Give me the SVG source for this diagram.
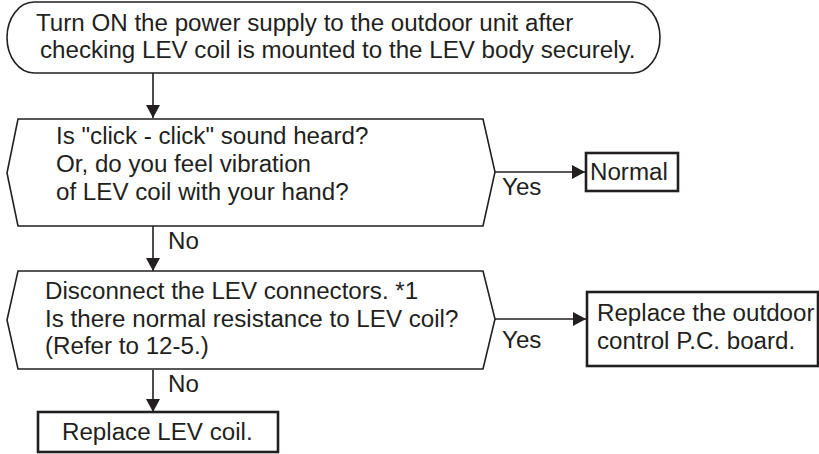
<svg xmlns="http://www.w3.org/2000/svg" width="819" height="454" viewBox="0 0 819 454">
<style>
.s{fill:#fff;stroke:#231f20;stroke-width:1.6}
.b{fill:#fff;stroke:#231f20;stroke-width:2.6}
.c{fill:none;stroke:#231f20;stroke-width:1.6}
text{font-family:"Liberation Sans",Arial,sans-serif;font-size:23px;fill:#231f20}
</style>
<defs>
<marker id="ah" viewBox="0 0 13 14" refX="13" refY="7" markerWidth="13" markerHeight="14" markerUnits="userSpaceOnUse" orient="auto">
<path d="M0,0 L13,7 L0,14 Z" fill="#231f20"/>
</marker>
</defs>
<g id="connectors">
<line class="c" x1="153" y1="73" x2="153" y2="118" marker-end="url(#ah)"/>
<line class="c" x1="153" y1="226" x2="153" y2="271" marker-end="url(#ah)"/>
<line class="c" x1="153" y1="370" x2="153" y2="412" marker-end="url(#ah)"/>
<line class="c" x1="495" y1="172" x2="585" y2="172" marker-end="url(#ah)"/>
<line class="c" x1="495" y1="319" x2="586" y2="319" marker-end="url(#ah)"/>
<text transform="translate(168 249) scale(1.05 1)">No</text>
<text transform="translate(168 392) scale(1.05 1)">No</text>
<text transform="translate(502 195) scale(1.05 1)">Yes</text>
<text transform="translate(502 348) scale(1.05 1)">Yes</text>
</g>
<g id="start">
<rect class="s" x="7" y="2" width="653" height="71" rx="27" ry="35.5"/>
<text transform="translate(36 31) scale(1.05 1)">Turn ON the power supply to the outdoor unit after</text>
<text transform="translate(40 58) scale(1.05 1)">checking LEV coil is mounted to the LEV body securely.</text>
</g>
<g id="decision1">
<polygon class="s" points="18,119 483,119 495,172 483,226 18,226 7,173"/>
<text transform="translate(56 144) scale(1.05 1)">Is "click - click" sound heard?</text>
<text transform="translate(56 172) scale(1.05 1)">Or, do you feel vibration</text>
<text transform="translate(56 200) scale(1.05 1)">of LEV coil with your hand?</text>
</g>
<g id="normal">
<rect class="b" x="586" y="153" width="92" height="38"/>
<text transform="translate(590 180) scale(1.05 1)">Normal</text>
</g>
<g id="decision2">
<polygon class="s" points="18,271 483,271 495,319 483,369 18,369 7,320"/>
<text transform="translate(45 299) scale(1.05 1)">Disconnect the LEV connectors. *1</text>
<text transform="translate(45 327) scale(1.05 1)">Is there normal resistance to LEV coil?</text>
<text transform="translate(45 354) scale(1.05 1)">(Refer to 12-5.)</text>
</g>
<g id="replace-board">
<rect class="b" x="587" y="292" width="231" height="74"/>
<text transform="translate(597 321) scale(1.05 1)">Replace the outdoor</text>
<text transform="translate(597 349) scale(1.05 1)">control P.C. board.</text>
</g>
<g id="replace-coil">
<rect class="b" x="38" y="412" width="240" height="40"/>
<text transform="translate(62 440) scale(1.05 1)">Replace LEV coil.</text>
</g>
</svg>
